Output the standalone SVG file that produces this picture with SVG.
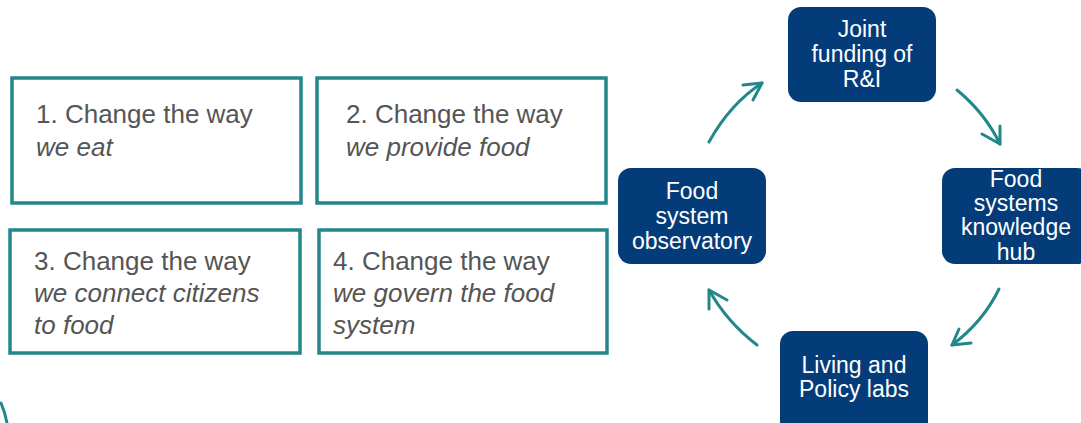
<svg xmlns="http://www.w3.org/2000/svg" width="1081" height="423" viewBox="0 0 1081 423">
<style>
.box{fill:#fff;stroke:#22878A;stroke-width:3.5}
.node{fill:#043C7A}
.t{font-family:"Liberation Sans",Arial,sans-serif;font-size:26px;fill:#555555}
.i{font-style:italic}
.w{font-family:"Liberation Sans",Arial,sans-serif;font-size:23px;fill:#fff;text-anchor:middle}
.c{fill:none;stroke:#22878A;stroke-width:3;stroke-linecap:round;stroke-linejoin:round}
</style>
<rect width="1081" height="423" fill="#fff"/>
<g id="box1"><rect class="box" x="12" y="78" width="289" height="125"/>
<text class="t" x="36" y="123">1. Change the way</text>
<text class="t i" x="36" y="156">we eat</text></g>
<g id="box2"><rect class="box" x="317" y="78" width="289" height="125"/>
<text class="t" x="346" y="123">2. Change the way</text>
<text class="t i" x="346" y="156">we provide food</text></g>
<g id="box3"><rect class="box" x="10" y="230" width="290" height="123"/>
<text class="t" x="34" y="270">3. Change the way</text>
<text class="t i" x="34" y="302">we connect citizens</text>
<text class="t i" x="34" y="334">to food</text></g>
<g id="box4"><rect class="box" x="319" y="230" width="288" height="123"/>
<text class="t" x="333" y="270">4. Change the way</text>
<text class="t i" x="333" y="302">we govern the food</text>
<text class="t i" x="333" y="334">system</text></g>
<g id="joint"><rect class="node" x="788" y="7" width="148" height="95" rx="13"/>
<text class="w" x="862" y="37">Joint</text>
<text class="w" x="862" y="62">funding of</text>
<text class="w" x="862" y="87">R&amp;I</text></g>
<g id="observatory"><rect class="node" x="618" y="168" width="148" height="96" rx="13"/>
<text class="w" x="692" y="199">Food</text>
<text class="w" x="692" y="224">system</text>
<text class="w" x="692" y="249">observatory</text></g>
<g id="hub"><rect class="node" x="942" y="168" width="148" height="96" rx="13"/>
<text class="w" x="1016" y="187">Food</text>
<text class="w" x="1016" y="211">systems</text>
<text class="w" x="1016" y="235">knowledge</text>
<text class="w" x="1016" y="260">hub</text></g>
<g id="labs"><rect class="node" x="780" y="331" width="148" height="110" rx="13"/>
<text class="w" x="854" y="373">Living and</text>
<text class="w" x="854" y="397">Policy labs</text></g>
<g id="connectors">
<path class="c" d="M709,142 Q730,104 762,83"/>
<path class="c" d="M743,85 L762,83 L753,100"/>
<path class="c" d="M957,90 Q985,113 1000,144"/>
<path class="c" d="M982,134 L1000,144 L1000,126"/>
<path class="c" d="M999,289 Q983,322 952,345"/>
<path class="c" d="M971,343 L952,345 L959,329"/>
<path class="c" d="M757,345 Q727,322 709,290"/>
<path class="c" d="M727,300 L709,290 L709,309"/>
<path class="c" d="M1,403 Q5,412 7,423"/>
</g>
</svg>
